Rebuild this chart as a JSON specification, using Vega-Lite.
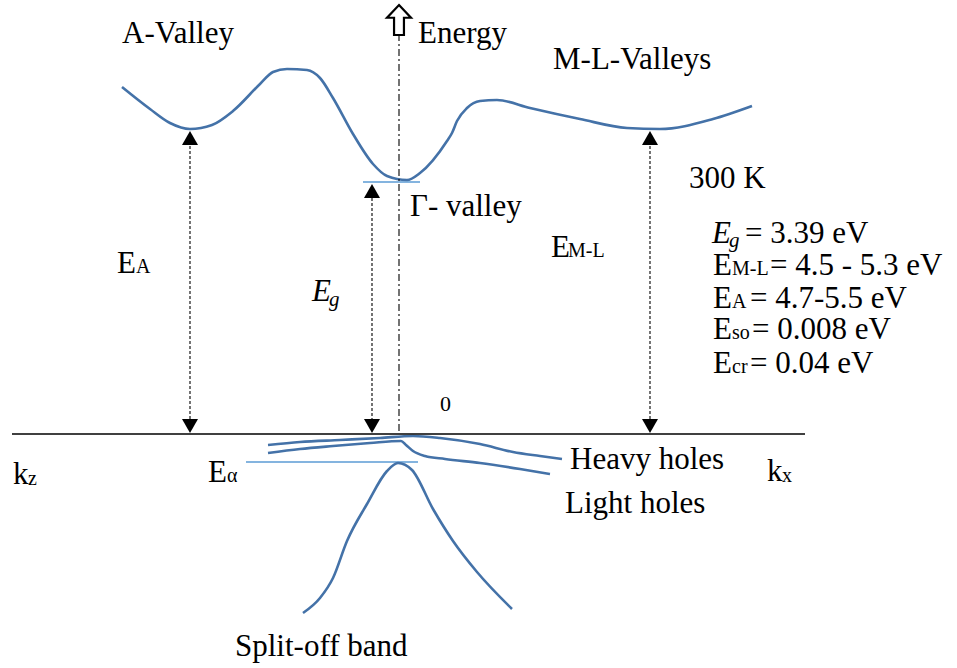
{
  "$schema": "https://vega.github.io/schema/vega-lite/v6.json",
  "width": 957,
  "height": 668,
  "padding": 0,
  "config": {"view": {"stroke": null}, "font": "Liberation Serif"},
  "datasets": {
    "curves": [
      {"band": "conduction", "i": 0, "x": 122, "y": 86},
      {"band": "conduction", "i": 1, "x": 150, "y": 108},
      {"band": "conduction", "i": 2, "x": 170, "y": 122},
      {"band": "conduction", "i": 3, "x": 190, "y": 128},
      {"band": "conduction", "i": 4, "x": 212, "y": 124},
      {"band": "conduction", "i": 5, "x": 233, "y": 110},
      {"band": "conduction", "i": 6, "x": 260, "y": 83},
      {"band": "conduction", "i": 7, "x": 273, "y": 71},
      {"band": "conduction", "i": 8, "x": 287, "y": 68},
      {"band": "conduction", "i": 9, "x": 307, "y": 69},
      {"band": "conduction", "i": 10, "x": 320, "y": 77},
      {"band": "conduction", "i": 11, "x": 333, "y": 97},
      {"band": "conduction", "i": 12, "x": 353, "y": 133},
      {"band": "conduction", "i": 13, "x": 373, "y": 163},
      {"band": "conduction", "i": 14, "x": 387, "y": 175},
      {"band": "conduction", "i": 15, "x": 407, "y": 179},
      {"band": "conduction", "i": 16, "x": 420, "y": 172},
      {"band": "conduction", "i": 17, "x": 447, "y": 140},
      {"band": "conduction", "i": 18, "x": 452, "y": 132},
      {"band": "conduction", "i": 19, "x": 457, "y": 120},
      {"band": "conduction", "i": 20, "x": 467, "y": 107},
      {"band": "conduction", "i": 21, "x": 480, "y": 100},
      {"band": "conduction", "i": 22, "x": 497, "y": 99},
      {"band": "conduction", "i": 23, "x": 530, "y": 107},
      {"band": "conduction", "i": 24, "x": 580, "y": 118},
      {"band": "conduction", "i": 25, "x": 627, "y": 127},
      {"band": "conduction", "i": 26, "x": 660, "y": 128},
      {"band": "conduction", "i": 27, "x": 713, "y": 118},
      {"band": "conduction", "i": 28, "x": 752, "y": 105},
      {"band": "heavy", "i": 0, "x": 268, "y": 444},
      {"band": "heavy", "i": 1, "x": 300, "y": 441},
      {"band": "heavy", "i": 2, "x": 340, "y": 439},
      {"band": "heavy", "i": 3, "x": 380, "y": 437},
      {"band": "heavy", "i": 4, "x": 413, "y": 435},
      {"band": "heavy", "i": 5, "x": 440, "y": 437},
      {"band": "heavy", "i": 6, "x": 480, "y": 443},
      {"band": "heavy", "i": 7, "x": 513, "y": 451},
      {"band": "heavy", "i": 8, "x": 540, "y": 455},
      {"band": "heavy", "i": 9, "x": 562, "y": 458},
      {"band": "light", "i": 0, "x": 268, "y": 452},
      {"band": "light", "i": 1, "x": 300, "y": 448},
      {"band": "light", "i": 2, "x": 333, "y": 445},
      {"band": "light", "i": 3, "x": 370, "y": 442},
      {"band": "light", "i": 4, "x": 401, "y": 440},
      {"band": "light", "i": 5, "x": 406, "y": 444},
      {"band": "light", "i": 6, "x": 413, "y": 450},
      {"band": "light", "i": 7, "x": 425, "y": 455},
      {"band": "light", "i": 8, "x": 445, "y": 458},
      {"band": "light", "i": 9, "x": 480, "y": 462},
      {"band": "light", "i": 10, "x": 520, "y": 468},
      {"band": "light", "i": 11, "x": 550, "y": 473},
      {"band": "splitoff", "i": 0, "x": 303, "y": 612},
      {"band": "splitoff", "i": 1, "x": 320, "y": 597},
      {"band": "splitoff", "i": 2, "x": 333, "y": 577},
      {"band": "splitoff", "i": 3, "x": 347, "y": 540},
      {"band": "splitoff", "i": 4, "x": 367, "y": 503},
      {"band": "splitoff", "i": 5, "x": 387, "y": 470},
      {"band": "splitoff", "i": 6, "x": 398, "y": 462},
      {"band": "splitoff", "i": 7, "x": 412, "y": 469},
      {"band": "splitoff", "i": 8, "x": 433, "y": 508},
      {"band": "splitoff", "i": 9, "x": 453, "y": 540},
      {"band": "splitoff", "i": 10, "x": 477, "y": 571},
      {"band": "splitoff", "i": 11, "x": 512, "y": 608}
    ],
    "dashed": [
      {"x": 190, "x2": 190, "y": 140, "y2": 424},
      {"x": 372, "x2": 372, "y": 192, "y2": 424},
      {"x": 650, "x2": 650, "y": 140, "y2": 424}
    ],
    "axisline": [
      {"x": 12, "x2": 805, "y": 433, "y2": 433}
    ],
    "energyaxis": [
      {"x": 399, "x2": 399, "y": 33, "y2": 433}
    ],
    "levels": [
      {"x": 363, "x2": 420, "y": 181, "y2": 181},
      {"x": 246, "x2": 418, "y": 461, "y2": 461}
    ],
    "heads": [
      {"x": 190, "y": 137, "shape": "triangle-up"},
      {"x": 190, "y": 425, "shape": "triangle-down"},
      {"x": 372, "y": 190, "shape": "triangle-up"},
      {"x": 372, "y": 425, "shape": "triangle-down"},
      {"x": 650, "y": 137, "shape": "triangle-up"},
      {"x": 650, "y": 425, "shape": "triangle-down"}
    ],
    "bigarrow": [
      {"x": 399, "y": 19}
    ],
    "labels": [
      {"x": 122, "y": 42, "text": "A-Valley", "kind": "main"},
      {"x": 418, "y": 42, "text": "Energy", "kind": "main"},
      {"x": 553, "y": 68, "text": "M-L-Valleys", "kind": "main"},
      {"x": 689, "y": 187, "text": "300 K", "kind": "main"},
      {"x": 745, "y": 242, "text": "= 3.39 eV", "kind": "main"},
      {"x": 713, "y": 274, "text": "E", "kind": "main"},
      {"x": 732, "y": 274, "text": "M-L", "kind": "sub"},
      {"x": 770, "y": 274, "text": "= 4.5 - 5.3 eV", "kind": "main"},
      {"x": 713, "y": 307, "text": "E", "kind": "main"},
      {"x": 732, "y": 307, "text": "A", "kind": "sub"},
      {"x": 750, "y": 307, "text": "= 4.7-5.5 eV", "kind": "main"},
      {"x": 713, "y": 338, "text": "E", "kind": "main"},
      {"x": 732, "y": 338, "text": "so", "kind": "sub"},
      {"x": 752, "y": 338, "text": "= 0.008 eV", "kind": "main"},
      {"x": 713, "y": 372, "text": "E", "kind": "main"},
      {"x": 732, "y": 372, "text": "cr", "kind": "sub"},
      {"x": 750, "y": 372, "text": "= 0.04 eV", "kind": "main"},
      {"x": 117, "y": 272, "text": "E", "kind": "main"},
      {"x": 136, "y": 272, "text": "A", "kind": "sub"},
      {"x": 551, "y": 256, "text": "E", "kind": "main"},
      {"x": 568, "y": 256, "text": "M-L", "kind": "sub"},
      {"x": 410, "y": 215, "text": "Γ- valley", "kind": "main"},
      {"x": 440, "y": 410, "text": "0", "kind": "small"},
      {"x": 13, "y": 483, "text": "k", "kind": "main"},
      {"x": 28, "y": 484, "text": "z", "kind": "sub"},
      {"x": 208, "y": 481, "text": "E", "kind": "main"},
      {"x": 227, "y": 481, "text": "α", "kind": "sub"},
      {"x": 570, "y": 468, "text": "Heavy holes", "kind": "main"},
      {"x": 565, "y": 512, "text": "Light holes", "kind": "main"},
      {"x": 767, "y": 480, "text": "k", "kind": "main"},
      {"x": 782, "y": 481, "text": "x", "kind": "sub"},
      {"x": 235, "y": 655, "text": "Split-off band", "kind": "main"},
      {"x": 712, "y": 242, "text": "E", "kind": "italic"},
      {"x": 729, "y": 246, "text": "g", "kind": "italicsub"},
      {"x": 312, "y": 300, "text": "E", "kind": "italic"},
      {"x": 329, "y": 305, "text": "g", "kind": "italicsub"}
    ]
  },
  "encoding": {
    "x": {"field": "x", "type": "quantitative", "scale": {"domain": [0, 957]}, "axis": null},
    "y": {"field": "y", "type": "quantitative", "scale": {"domain": [0, 668], "reverse": true}, "axis": null}
  },
  "layer": [
    {
      "data": {"name": "levels"},
      "mark": {"type": "rule", "color": "#5b9bd5", "strokeWidth": 1.3},
      "encoding": {"x2": {"field": "x2"}, "y2": {"field": "y2"}}
    },
    {
      "data": {"name": "curves"},
      "mark": {"type": "line", "interpolate": "monotone", "color": "#4472a8", "strokeWidth": 2.6},
      "encoding": {
        "detail": {"field": "band"},
        "order": {"field": "i", "type": "quantitative"}
      }
    },
    {
      "data": {"name": "dashed"},
      "mark": {"type": "rule", "color": "black", "strokeWidth": 1.1, "strokeDash": [3, 2]},
      "encoding": {"x2": {"field": "x2"}, "y2": {"field": "y2"}}
    },
    {
      "data": {"name": "energyaxis"},
      "mark": {"type": "rule", "color": "black", "strokeWidth": 1.1, "strokeDash": [7, 3, 2, 3]},
      "encoding": {"x2": {"field": "x2"}, "y2": {"field": "y2"}}
    },
    {
      "data": {"name": "axisline"},
      "mark": {"type": "rule", "color": "black", "strokeWidth": 1.5},
      "encoding": {"x2": {"field": "x2"}, "y2": {"field": "y2"}}
    },
    {
      "data": {"name": "heads"},
      "mark": {"type": "point", "filled": true, "color": "black", "opacity": 1, "size": 256},
      "encoding": {"shape": {"field": "shape", "type": "nominal", "scale": null, "legend": null}}
    },
    {
      "data": {"name": "bigarrow"},
      "mark": {"type": "point", "filled": false, "stroke": "black", "strokeWidth": 2.2, "opacity": 1, "size": 900,
               "shape": "M0,-1 L0.8,-0.15 L0.33,-0.15 L0.33,1 L-0.33,1 L-0.33,-0.15 L-0.8,-0.15 Z"}
    },
    {
      "data": {"name": "labels"},
      "transform": [{"filter": "datum.kind == 'main'"}],
      "mark": {"type": "text", "font": "Liberation Serif", "fontSize": 31, "align": "left", "baseline": "alphabetic", "color": "black"},
      "encoding": {"text": {"field": "text"}}
    },
    {
      "data": {"name": "labels"},
      "transform": [{"filter": "datum.kind == 'sub'"}],
      "mark": {"type": "text", "font": "Liberation Serif", "fontSize": 20, "align": "left", "baseline": "alphabetic", "color": "black"},
      "encoding": {"text": {"field": "text"}}
    },
    {
      "data": {"name": "labels"},
      "transform": [{"filter": "datum.kind == 'small'"}],
      "mark": {"type": "text", "font": "Liberation Serif", "fontSize": 22, "align": "left", "baseline": "alphabetic", "color": "black"},
      "encoding": {"text": {"field": "text"}}
    },
    {
      "data": {"name": "labels"},
      "transform": [{"filter": "datum.kind == 'italic'"}],
      "mark": {"type": "text", "font": "Liberation Serif", "fontStyle": "italic", "fontSize": 31, "align": "left", "baseline": "alphabetic", "color": "black"},
      "encoding": {"text": {"field": "text"}}
    },
    {
      "data": {"name": "labels"},
      "transform": [{"filter": "datum.kind == 'italicsub'"}],
      "mark": {"type": "text", "font": "Liberation Serif", "fontStyle": "italic", "fontSize": 21, "align": "left", "baseline": "alphabetic", "color": "black"},
      "encoding": {"text": {"field": "text"}}
    }
  ]
}
